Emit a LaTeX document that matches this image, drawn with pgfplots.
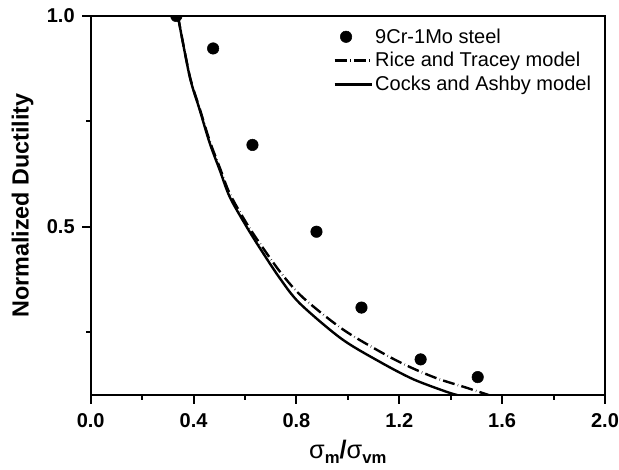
\documentclass[border=0pt]{standalone}
\usepackage{fontspec}
\setmainfont{Liberation Sans}
\usepackage{pgfplots}
\pgfplotsset{compat=1.18}

% short line sample in the legend for the model curves
\pgfplotsset{modelline/.style={legend image code/.code={\draw[##1] (0pt,0pt) -- (28pt,0pt);}}}

% measured ductility, normalised by the uniaxial value
\pgfplotstableread{
x      y
0.333  1.000
0.476  0.923
0.629  0.694
0.878  0.488
1.053  0.308
1.283  0.185
1.505  0.143
}\steeldata

\begin{document}
\begin{tikzpicture}
\begin{axis}[
  scale only axis,
  width=385.5pt, height=284.25pt,
  xmin=0, xmax=2, ymin=0.1, ymax=1.0,
  axis line style={line width=1.5pt},
  xtick={0,0.4,0.8,1.2,1.6,2.0},
  minor xtick={0.2,0.6,1.0,1.4,1.8},
  ytick={0.5,1.0},
  minor ytick={0.25,0.75},
  tick align=outside, tick pos=left,
  major tick length=6.5pt, minor tick length=3.5pt,
  every tick/.style={line width=1.5pt, black},
  /pgf/number format/.cd, fixed, fixed zerofill, precision=1, assume math mode=true,
  /pgfplots/.cd,
  ticklabel style={font=\bfseries\fontsize{15}{16}\selectfont},
  xticklabel style={yshift=-4pt},
  yticklabel style={xshift=-2pt},
  xlabel={\fontsize{19}{21}\selectfont σ\raisebox{-0.35ex}{\bfseries\fontsize{12.5}{13}\selectfont m}\textbf{/}σ\raisebox{-0.35ex}{\bfseries\fontsize{12.5}{13}\selectfont vm}},
  xlabel style={at={(axis description cs:0.5,0)}, anchor=base, yshift=-47.5pt},
  ylabel={\bfseries\fontsize{17.5}{19}\selectfont Normalized Ductility},
  ylabel style={at={(axis description cs:0,0.5)}, anchor=center, yshift=51pt},
  clip marker paths=true,
  legend style={at={(0.985,0.98)}, anchor=north east, draw=none, fill=none,
    font=\fontsize{15}{17}\selectfont, row sep=2.5pt,
    nodes={inner sep=1.5pt}},
  legend cell align=left,
]
\addplot[only marks, mark=*, mark size=4.3pt, black] table[x=x, y=y] {\steeldata};
\addlegendentry{9Cr-1Mo steel}

% Rice and Tracey model
\addplot[black, line width=1.8pt, smooth, dash pattern=on 9pt off 2.5pt on 0.3pt off 2.5pt, modelline]
coordinates {
(0.339,1.000) (0.385,0.858) (0.424,0.780) (0.463,0.703) (0.502,0.640)
(0.541,0.578) (0.606,0.508) (0.658,0.460) (0.740,0.390) (0.825,0.332)
(0.981,0.256) (1.144,0.197) (1.248,0.165) (1.351,0.139) (1.455,0.119)
(1.500,0.110) (1.550,0.100)
};
\addlegendentry{Rice and Tracey model}

% Cocks and Ashby model
\addplot[black, line width=1.8pt, smooth, modelline]
coordinates {
(0.339,1.000) (0.385,0.856) (0.424,0.777) (0.463,0.698) (0.502,0.634)
(0.541,0.570) (0.606,0.500) (0.658,0.449) (0.735,0.378) (0.813,0.318)
(0.975,0.234) (1.125,0.179) (1.254,0.138) (1.384,0.108) (1.428,0.100)
};
\addlegendentry{Cocks and Ashby model}
\end{axis}
\pgfresetboundingbox
\path ([shift={(-68pt,-56pt)}]current axis.south west) rectangle ([shift={(10.5pt,12pt)}]current axis.north east);
\end{tikzpicture}
\end{document}
